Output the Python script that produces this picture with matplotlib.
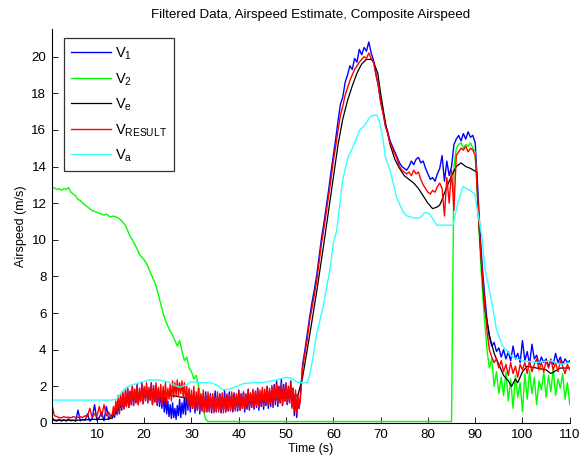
import numpy as np
import matplotlib
matplotlib.use("Agg")
import matplotlib.pyplot as plt

plt.rcParams['font.family'] = ['Liberation Sans', 'DejaVu Sans']
plt.rcParams['mathtext.fontset'] = 'custom'
plt.rcParams['mathtext.rm'] = 'Liberation Sans'

# regular 0.5 s samples for V2
t_fast = np.arange(1, 221) * 0.5
# V1 / VRESULT: 0.5 s samples, 0.25 s in the noisy 13-53 s stretch
t_noisy = np.concatenate([np.arange(1, 27) * 0.5,
                          13 + np.arange(1, 161) * 0.25,
                          53 + np.arange(1, 115) * 0.5])

v1 = [
    0.30, 0.15, 0.10, 0.20, 0.10, 0.18, 0.10, 0.22, 0.12, 0.15, 0.10, 0.70, 0.12, 0.20, 0.15, 0.50, 0.10, 0.22, 1.00, 0.15,
    0.30, 0.60, 0.12, 0.90, 0.20, 0.45,
    0.25, 0.60, 0.30, 0.90, 0.45, 1.20, 0.50, 1.40, 0.70, 1.60, 0.80, 1.30, 0.90, 1.90, 0.85, 1.70, 1.00, 2.00, 0.95, 1.80,
    1.10, 2.10, 1.00, 1.70, 1.20, 2.20, 1.05, 1.90, 1.30, 2.00, 1.10, 1.80, 1.25, 2.20, 1.00, 1.90, 1.15, 2.05, 0.95, 1.85,
    0.90, 1.70, 0.80, 1.60, 0.60, 1.40, 0.50, 1.20, 0.35, 1.00, 0.25, 1.10, 0.30, 0.80, 0.20, 0.95, 0.40, 1.30, 0.30, 1.10,
    0.50, 1.40, 0.45, 1.60, 0.70, 1.80, 0.60, 1.50, 0.80, 1.70, 0.55, 1.40, 0.70, 1.90, 0.50, 1.50, 0.65, 1.60, 0.55, 1.70,
    0.60, 1.50, 0.70, 1.60, 0.55, 1.40, 0.65, 1.75, 0.60, 1.50, 0.75, 1.60, 0.55, 1.45, 0.70, 1.80, 0.60, 1.50, 0.65, 1.70,
    0.70, 1.55, 0.60, 1.65, 0.75, 1.50, 0.65, 1.80, 0.70, 1.60, 0.80, 1.70, 0.60, 1.55, 0.75, 1.85, 0.70, 1.60, 0.85, 1.75,
    0.75, 1.65, 0.85, 1.90, 0.70, 1.60, 0.90, 1.80, 0.75, 1.70, 0.95, 2.00, 0.80, 1.75, 0.90, 1.95, 0.85, 2.10, 1.00, 2.30,
    0.90, 2.00, 1.10, 2.40, 0.95, 2.10, 1.20, 2.20, 1.00, 2.00, 1.10, 2.30, 0.90, 1.90, 0.40, 1.60, 0.30, 1.20, 0.80, 1.40,
    3.2, 4.0, 4.9, 5.8, 6.6, 7.3, 8.1, 9.1, 10.1, 10.9, 11.8, 12.7, 13.7, 14.6,
    15.5, 16.5, 17.4, 17.8, 18.6, 19.0, 19.5, 19.3, 19.9, 19.7, 20.4, 20.1, 20.5, 20.3, 20.8, 20.2, 19.8, 19.1, 18.4, 17.6,
    17.0, 16.3, 15.9, 15.4, 15.1, 14.8, 14.5, 14.2, 14.0, 13.9, 13.8, 14.0, 14.3, 14.1, 14.4, 14.5, 14.2, 14.3, 13.9, 13.6,
    13.3, 13.4, 13.2, 13.6, 13.9, 14.6, 13.2, 14.3, 13.5, 14.0, 15.2, 15.5, 15.7, 15.4, 15.8, 15.5, 15.9, 15.6, 15.7, 15.3,
    13.0, 10.5, 8.5, 7.0, 5.6, 4.7, 4.2, 4.4, 3.9, 4.1, 3.6, 4.0, 3.5, 3.9, 3.4, 4.2, 3.5, 3.8, 3.3, 4.5,
    3.4, 3.9, 3.2, 4.3, 3.5, 3.7, 3.2, 3.6, 3.3, 3.5, 3.1, 3.4, 3.2, 3.8, 3.3, 3.6, 3.2, 3.5, 3.3, 3.4,
]

v_result = [
    1.00, 0.40, 0.35, 0.30, 0.28, 0.35, 0.30, 0.32, 0.28, 0.35, 0.30, 0.30, 0.35, 0.30, 0.40, 0.35, 0.80, 0.30, 0.50, 0.35,
    0.90, 0.35, 1.00, 0.40, 0.60, 0.30,
    0.45, 0.90, 0.40, 1.20, 0.60, 1.50, 0.55, 1.60, 0.80, 1.70, 0.75, 1.80, 0.90, 1.90, 0.85, 1.75, 1.00, 2.00, 0.95, 1.85,
    1.10, 2.00, 1.00, 1.90, 1.20, 2.10, 1.05, 2.00, 1.20, 2.20, 1.10, 1.95, 1.25, 2.15, 1.00, 2.05, 1.15, 2.20, 1.05, 1.95,
    1.10, 2.10, 1.00, 2.00, 1.20, 2.20, 1.05, 1.90, 1.30, 2.10, 1.20, 2.30, 1.40, 2.20, 1.50, 2.35, 1.45, 2.20, 1.60, 2.30,
    1.40, 2.20, 1.20, 2.00, 1.00, 1.90, 0.90, 1.80, 0.80, 2.00, 0.75, 1.70, 0.70, 1.90, 0.65, 1.60, 0.70, 1.80, 0.60, 1.55,
    0.65, 1.70, 0.60, 1.50, 0.70, 1.60, 0.55, 1.45, 0.65, 1.70, 0.60, 1.50, 0.70, 1.65, 0.55, 1.40, 0.60, 1.60, 0.70, 1.55,
    0.65, 1.70, 0.75, 1.55, 0.65, 1.60, 0.80, 1.75, 0.70, 1.55, 0.80, 1.70, 0.75, 1.60, 0.85, 1.80, 0.80, 1.65, 0.90, 1.85,
    0.85, 1.75, 0.95, 1.90, 0.85, 1.80, 1.00, 1.95, 0.90, 1.85, 1.05, 2.00, 0.95, 1.90, 1.10, 2.05, 1.00, 1.95, 1.15, 2.10,
    1.05, 2.00, 1.10, 2.15, 1.00, 1.95, 1.20, 2.10, 1.05, 2.00, 1.10, 2.20, 0.80, 1.90, 0.60, 1.80, 0.50, 1.60, 0.80, 1.20,
    3.0, 3.8, 4.6, 5.6, 6.3, 7.0, 7.8, 8.8, 9.8, 10.6, 11.5, 12.4, 13.3, 14.3,
    15.1, 16.0, 16.8, 17.3, 17.9, 18.3, 18.7, 19.0, 19.3, 19.5, 19.7, 19.85, 20.0, 19.9, 20.2, 19.9, 19.7, 19.0, 18.5, 17.5,
    16.9, 16.2, 15.8, 15.3, 15.0, 14.7, 14.4, 14.0, 13.8, 13.7, 13.6, 13.7, 13.5, 13.8, 13.6, 13.7, 13.3, 13.0, 12.8, 12.6,
    12.5, 12.7, 12.6, 12.9, 13.1, 12.8, 11.3, 13.4, 12.0, 13.8, 11.6, 14.6, 14.8, 15.0, 14.9, 15.1, 14.8, 15.0, 14.9, 14.6,
    12.5, 10.0, 8.2, 6.6, 5.0, 4.0, 3.6, 3.3, 3.5, 3.0, 3.4, 2.8, 3.2, 2.6, 3.3, 2.7, 3.1, 2.5, 3.2, 2.9,
    3.3, 2.7, 3.4, 2.8, 3.2, 3.5, 2.9, 3.3, 2.8, 3.4, 3.0, 3.5, 2.9, 3.3, 2.8, 3.4, 3.1, 2.7, 3.2, 2.9,
]

v2 = (
    [12.80, 12.85, 12.75, 12.80, 12.70, 12.80, 12.75, 12.85, 12.60, 12.50, 12.40, 12.20, 12.15, 12.00, 11.90, 11.80, 11.70, 11.60, 11.55, 11.50,
     11.45, 11.40, 11.35, 11.40, 11.30, 11.25, 11.30, 11.25, 11.20, 11.10, 10.95, 10.80, 10.50, 10.20, 10.00, 9.75, 9.50, 9.20, 9.05, 8.90,
     8.70, 8.40, 8.10, 7.80, 7.50, 7.00, 6.50, 6.00, 5.60, 5.30, 5.00, 4.80, 4.50, 4.20, 4.50, 3.90, 3.40, 3.60, 3.00, 2.80,
     2.40, 2.60, 2.00, 1.30, 0.70, 0.20]
    + [0.08] * 104
    + [14.0, 15.0, 15.2, 15.3, 15.0, 15.2, 15.1, 15.3, 15.0, 14.8,
       12.3, 9.5, 7.3, 5.5, 4.0, 3.0, 3.5, 2.0, 2.8, 1.6,
       2.5, 1.5, 2.8, 1.2, 2.4, 0.8, 2.6, 1.4, 2.2, 0.6, 2.7, 1.3, 2.9, 1.6, 2.5,
       1.0, 2.3, 1.8, 2.8, 1.4, 2.6, 1.7, 3.0, 1.5, 2.4, 1.9, 2.7, 1.3, 2.2, 1.0]
)

ve_t = [0.5, 3, 6, 9, 12, 13, 15, 17, 20, 23, 26, 29, 32, 35, 40, 45, 50, 52.5, 53.5, 55, 56.5, 58, 59.5,
        61, 62, 63, 64, 65, 66, 67, 68, 68.5, 69.4, 70, 71, 72, 73, 74, 75, 76, 77, 78, 79, 80, 81, 82,
        82.5, 83, 84, 85, 86, 87, 88, 89, 90.3, 90.6, 91, 91.5, 92, 93, 94, 95, 96, 97, 97.7, 98.5, 99,
        100, 101, 103, 105, 106, 108, 110]
ve = [0.15, 0.15, 0.15, 0.2, 0.2, 0.25, 0.9, 1.3, 1.6, 1.6, 1.5, 1.35, 1.3, 1.1, 1.0, 1.2, 1.4, 1.5, 2.5, 4.8, 7.2, 9.8, 12.5,
      15.2, 16.6, 17.6, 18.4, 19.1, 19.6, 19.85, 19.85, 19.7, 19.1, 18.0, 16.4, 15.2, 14.4, 13.9, 13.5, 13.3, 13.1, 12.8, 12.4, 12.0, 11.7, 11.8,
      11.9, 12.2, 12.9, 13.5, 14.0, 14.2, 14.0, 13.9, 13.7, 11.6, 10.0, 8.0, 6.3, 4.8, 3.8, 3.2, 2.6, 2.3, 2.0, 2.4, 2.2,
      2.8, 3.1, 3.0, 2.9, 2.7, 3.0, 3.0]

va_t = [0.5, 13, 14.2, 15, 16, 17, 19, 21, 23, 25, 26.5, 27.5, 29, 30, 32, 34, 35.5, 36.7, 38, 39.6, 41, 43, 45, 47, 48,
        50, 51.5, 52.5, 54.5, 55, 55.5, 56.5, 57.8, 59.3, 60, 60.7, 61.3, 62, 63.1, 64, 65, 65.6, 66.5, 67.7, 68.5,
        69.2, 69.8, 70.5, 71, 72, 73.4, 74.8, 75.6, 77, 78.3, 79.4, 80.4, 81.9, 85.3, 86.3, 87.4, 88.9, 89.9, 90.5,
        91.4, 92, 93.5, 94.5, 95.8, 97.9, 100, 103, 106, 108, 110]
va = [1.25, 1.25, 1.3, 1.6, 1.9, 2.05, 2.2, 2.35, 2.35, 2.25, 2.05, 1.95, 2.1, 2.25, 2.2, 2.2, 2.05, 1.8, 1.85, 2.0, 2.15, 2.2, 2.2, 2.3, 2.35,
      2.5, 2.4, 2.2, 2.2, 2.6, 3.3, 4.9, 6.3, 8.4, 9.8, 10.5, 11.8, 13.3, 14.5, 15.0, 15.6, 16.0, 16.2, 16.7, 16.8,
      16.8, 16.4, 15.5, 14.5, 13.8, 12.3, 11.5, 11.3, 11.2, 11.2, 11.5, 11.4, 10.8, 10.8, 12.0, 12.9, 12.7, 12.5, 11.6,
      10.2, 8.5, 6.6, 5.1, 4.2, 3.6, 3.4, 3.3, 3.4, 3.2, 3.3]

labels = ['V$_{\\mathregular{1}}$', 'V$_{\\mathregular{2}}$', 'V$_{\\mathregular{e}}$',
          'V$_{\\mathregular{RESULT}}$', 'V$_{\\mathregular{a}}$']
x_ticks = [10, 20, 30, 40, 50, 60, 70, 80, 90, 100, 110]
y_ticks = [0, 2, 4, 6, 8, 10, 12, 14, 16, 18, 20]

fig = plt.figure(figsize=(5.88, 4.63), dpi=100)
ax = fig.add_axes([0.0884, 0.0864, 0.8806, 0.8506])

ax.plot(t_noisy, v1, color=(0, 0, 1), lw=1.0, label=labels[0])
ax.plot(t_fast, v2, color=(0, 1, 0), lw=1.0, label=labels[1])
ax.plot(ve_t, ve, color='k', lw=0.9, label=labels[2])
ax.plot(t_noisy, v_result, color=(1, 0, 0), lw=1.0, label=labels[3])
ax.plot(va_t, va, color=(0.2, 1, 1), lw=1.0, label=labels[4])

ax.set_xlim(0.5, 110)
ax.set_ylim(0, 21.5)
ax.set_xticks(x_ticks)
ax.set_yticks(y_ticks)
ax.tick_params(direction='in', length=4, width=0.6, labelsize=9.6, colors='black', pad=4)
ax.spines['top'].set_visible(False)
ax.spines['right'].set_visible(False)
for s in ['left', 'bottom']:
    ax.spines[s].set_linewidth(0.8)

ax.set_title('Filtered Data, Airspeed Estimate, Composite Airspeed', fontsize=9.6, pad=8)
ax.set_xlabel('Time (s)', fontsize=9, labelpad=2)
ax.set_ylabel('Airspeed (m/s)', fontsize=9, labelpad=3)

leg = ax.legend(loc='upper left', bbox_to_anchor=(0.023, 0.977), borderaxespad=0,
                fancybox=False, frameon=True, fontsize=10.5, handlelength=2.7,
                labelspacing=0.6, borderpad=0.5, handletextpad=0.3)
leg.get_frame().set_edgecolor('black')
leg.get_frame().set_linewidth(0.9)

fig.savefig('out.png', dpi=100)
